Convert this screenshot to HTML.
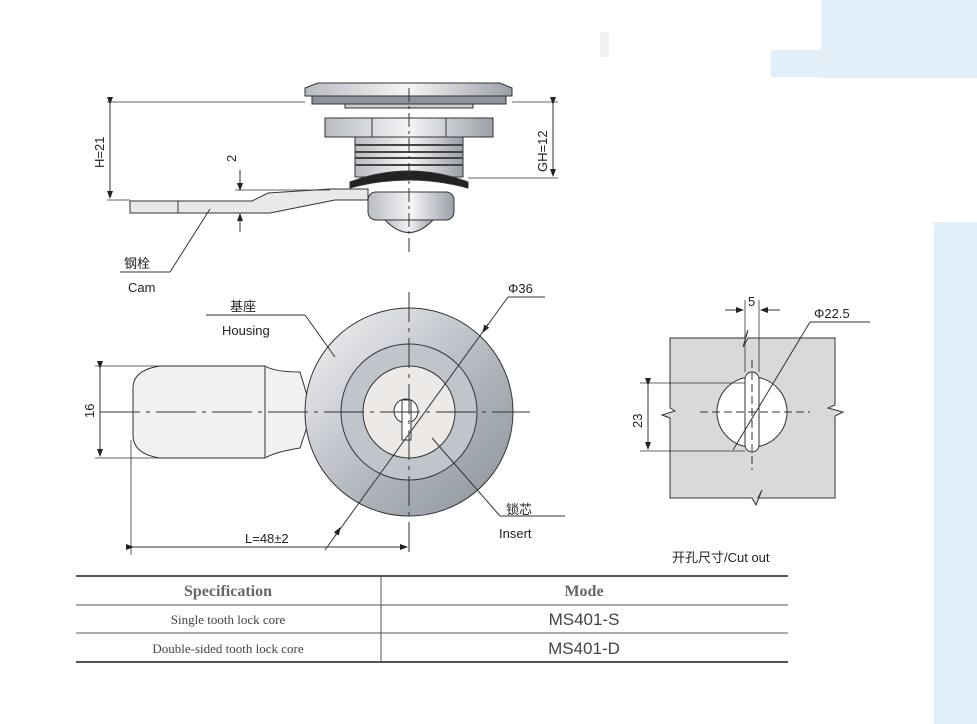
<!DOCTYPE html>
<html><head><meta charset="utf-8"><style>
body{margin:0;background:#fff;width:977px;height:724px;overflow:hidden;position:relative;font-family:"Liberation Sans","Noto Sans CJK SC",sans-serif}
</style></head><body>
<div style="position:absolute;left:821px;top:0;width:156px;height:78px;background:#e2eff8"></div>
<div style="position:absolute;left:771px;top:50px;width:50px;height:27px;background:#e2eff8"></div>
<div style="position:absolute;left:934px;top:222px;width:43px;height:502px;background:#e2eff8"></div>
<div style="position:absolute;left:600px;top:32px;width:9px;height:25px;background:#f0f0f0"></div>
<svg width="977" height="724" style="position:absolute;left:0;top:0" font-family="Liberation Sans, Noto Sans CJK SC, sans-serif">
<defs>
<linearGradient id="g1" x1="0" x2="1"><stop offset="0" stop-color="#b8bcc2"/><stop offset=".5" stop-color="#f4f5f7"/><stop offset="1" stop-color="#9aa0a8"/></linearGradient>
<linearGradient id="g2" x1="0" y1="0" x2="1" y2="1"><stop offset="0" stop-color="#f4f5f7"/><stop offset=".6" stop-color="#aeb3ba"/><stop offset="1" stop-color="#8d939b"/></linearGradient>
<marker id="a" markerWidth="8" markerHeight="8" refX="7" refY="4" orient="auto"><path d="M0,1L8,4L0,7z" fill="#222"/></marker>
</defs>
<g stroke="#333" stroke-width="1" fill="none">
<path d="M305,88 L318,83 L500,83 L512,88 L512,96 L305,96z" fill="url(#g1)"/>
<rect x="312" y="96" width="194" height="8" fill="#8d939b"/>
<rect x="345" y="104" width="128" height="4" fill="#ccc"/>
<rect x="325" y="118" width="168" height="19" fill="url(#g1)"/>
<line x1="372" y1="118" x2="372" y2="137"/><line x1="446" y1="118" x2="446" y2="137"/>
<rect x="355" y="137" width="108" height="40" fill="url(#g1)"/>
<path d="M355,145h108M355,152h108M355,158h108M355,165h108" stroke="#444" stroke-width="2"/>
<path d="M350,182 Q409,160 468,182 L468,188 Q409,172 350,188z" fill="#222"/>
<rect x="368" y="192" width="86" height="28" rx="8" fill="url(#g1)"/>
<path d="M385,220 Q409,245 433,220z" fill="url(#g1)"/>
<path d="M130,201 L252,201 L268,193 L330,189 L368,189 L368,200 L335,200 L270,213 L130,213z" fill="#e8e9eb"/>
<line x1="178" y1="201" x2="178" y2="213"/>
<line x1="409" y1="88" x2="409" y2="255" stroke-dasharray="14,4,3,4"/>
<line x1="107" y1="102" x2="305" y2="102" stroke-width=".8"/>
<line x1="107" y1="200" x2="130" y2="200" stroke-width=".8"/>
<line x1="110" y1="104" x2="110" y2="198" marker-start="url(#a)" marker-end="url(#a)"/>
<line x1="512" y1="102" x2="558" y2="102" stroke-width=".8"/>
<line x1="468" y1="178" x2="558" y2="178" stroke-width=".8"/>
<line x1="553" y1="104" x2="553" y2="176" marker-start="url(#a)" marker-end="url(#a)"/>
<line x1="240" y1="170" x2="240" y2="190" marker-end="url(#a)"/>
<line x1="240" y1="232" x2="240" y2="214" marker-end="url(#a)"/>
<line x1="235" y1="190" x2="330" y2="190" stroke-width=".8"/>
<line x1="210" y1="209" x2="170" y2="272"/><line x1="170" y1="272" x2="120" y2="272"/>
<path d="M133,388 Q133,370 160,366 L265,366 Q275,372 300,372 L312,412 L300,448 Q275,452 265,458 L160,458 Q133,454 133,435z" fill="#f1f1f2"/>
<line x1="265" y1="366" x2="265" y2="458"/>
<circle cx="409" cy="412" r="104" fill="url(#g2)"/>
<circle cx="409" cy="412" r="68" fill="#bfc5cb"/>
<circle cx="409" cy="412" r="46" fill="#ede9e6"/>
<circle cx="406" cy="411" r="12" fill="#fff"/>
<rect x="402" y="400" width="9" height="40" fill="#fff"/>
<line x1="100" y1="412" x2="530" y2="412" stroke-dasharray="40,6,4,6"/>
<line x1="409" y1="292" x2="409" y2="555" stroke-dasharray="30,6,4,6"/>
<line x1="95" y1="366" x2="160" y2="366" stroke-width=".8"/>
<line x1="95" y1="458" x2="160" y2="458" stroke-width=".8"/>
<line x1="100" y1="368" x2="100" y2="456" marker-start="url(#a)" marker-end="url(#a)"/>
<line x1="131" y1="440" x2="131" y2="555" stroke-width=".8"/>
<line x1="133" y1="547" x2="407" y2="547" marker-start="url(#a)" marker-end="url(#a)"/>
<line x1="325" y1="550" x2="508" y2="297"/>
<line x1="508" y1="297" x2="545" y2="297"/>
<line x1="335" y1="536" x2="340" y2="528" marker-end="url(#a)"/>
<line x1="488" y1="324" x2="483" y2="332" marker-end="url(#a)"/>
<line x1="206" y1="315" x2="305" y2="315"/><line x1="305" y1="315" x2="335" y2="357"/>
<line x1="432" y1="438" x2="500" y2="516"/><line x1="500" y1="516" x2="565" y2="516"/>
<path d="M670,338 L745,338 L748,330 L743,347 L748,338 L835,338 L835,405 L828,408 L843,412 L835,416 L835,498 L758,498 L762,490 L756,505 L752,498 L670,498 L670,418 L662,415 L675,411 L670,408z" fill="#d9d9d9"/>
<circle cx="752" cy="412" r="35" fill="#fff"/>
<rect x="745" y="372" width="14" height="80" rx="7" fill="#fff"/>
<line x1="700" y1="412" x2="810" y2="412" stroke-dasharray="8,4"/>
<line x1="752" y1="360" x2="752" y2="470" stroke-dasharray="8,4"/>
<line x1="640" y1="383" x2="745" y2="383" stroke-width=".8"/>
<line x1="640" y1="451" x2="745" y2="451" stroke-width=".8"/>
<line x1="648" y1="385" x2="648" y2="449" marker-start="url(#a)" marker-end="url(#a)"/>
<line x1="745" y1="300" x2="745" y2="372" stroke-width=".8"/>
<line x1="759" y1="300" x2="759" y2="372" stroke-width=".8"/>
<line x1="725" y1="310" x2="743" y2="310" marker-end="url(#a)"/>
<line x1="780" y1="310" x2="761" y2="310" marker-end="url(#a)"/>
<line x1="733" y1="450" x2="810" y2="322"/><line x1="810" y1="322" x2="870" y2="322"/>
<g stroke="#555">
<line x1="76" y1="576" x2="788" y2="576" stroke-width="2"/>
<line x1="76" y1="605" x2="788" y2="605"/>
<line x1="76" y1="633" x2="788" y2="633"/>
<line x1="76" y1="662" x2="788" y2="662" stroke-width="2"/>
<line x1="381" y1="576" x2="381" y2="662"/>
</g>
</g>
<g fill="#222" font-size="13">
<text transform="translate(104,168) rotate(-90)">H=21</text>
<text transform="translate(547,172) rotate(-90)">GH=12</text>
<text transform="translate(236,162) rotate(-90)">2</text>
<text transform="translate(94,418) rotate(-90)">16</text>
<text transform="translate(642,428) rotate(-90)">23</text>
<text x="124" y="268">钢栓</text>
<text x="128" y="292">Cam</text>
<text x="230" y="311">基座</text>
<text x="222" y="335">Housing</text>
<text x="508" y="293">Φ36</text>
<text x="506" y="514">锁芯</text>
<text x="499" y="538">Insert</text>
<text x="245" y="543">L=48±2</text>
<text x="748" y="306">5</text>
<text x="814" y="318">Φ22.5</text>
<text x="672" y="562">开孔尺寸/Cut out</text>
</g>
<g fill="#444" font-family="Liberation Serif, serif" text-anchor="middle">
<text x="228" y="596" font-size="16" font-weight="bold" fill="#666">Specification</text>
<text x="584" y="596" font-size="16" font-weight="bold" fill="#666">Mode</text>
<text x="228" y="624" font-size="13">Single tooth lock core</text>
<text x="228" y="653" font-size="13">Double-sided tooth lock core</text>
</g>
<g fill="#444" font-size="17" text-anchor="middle">
<text x="584" y="625">MS401-S</text>
<text x="584" y="654">MS401-D</text>
</g>
</svg>
</body></html>
